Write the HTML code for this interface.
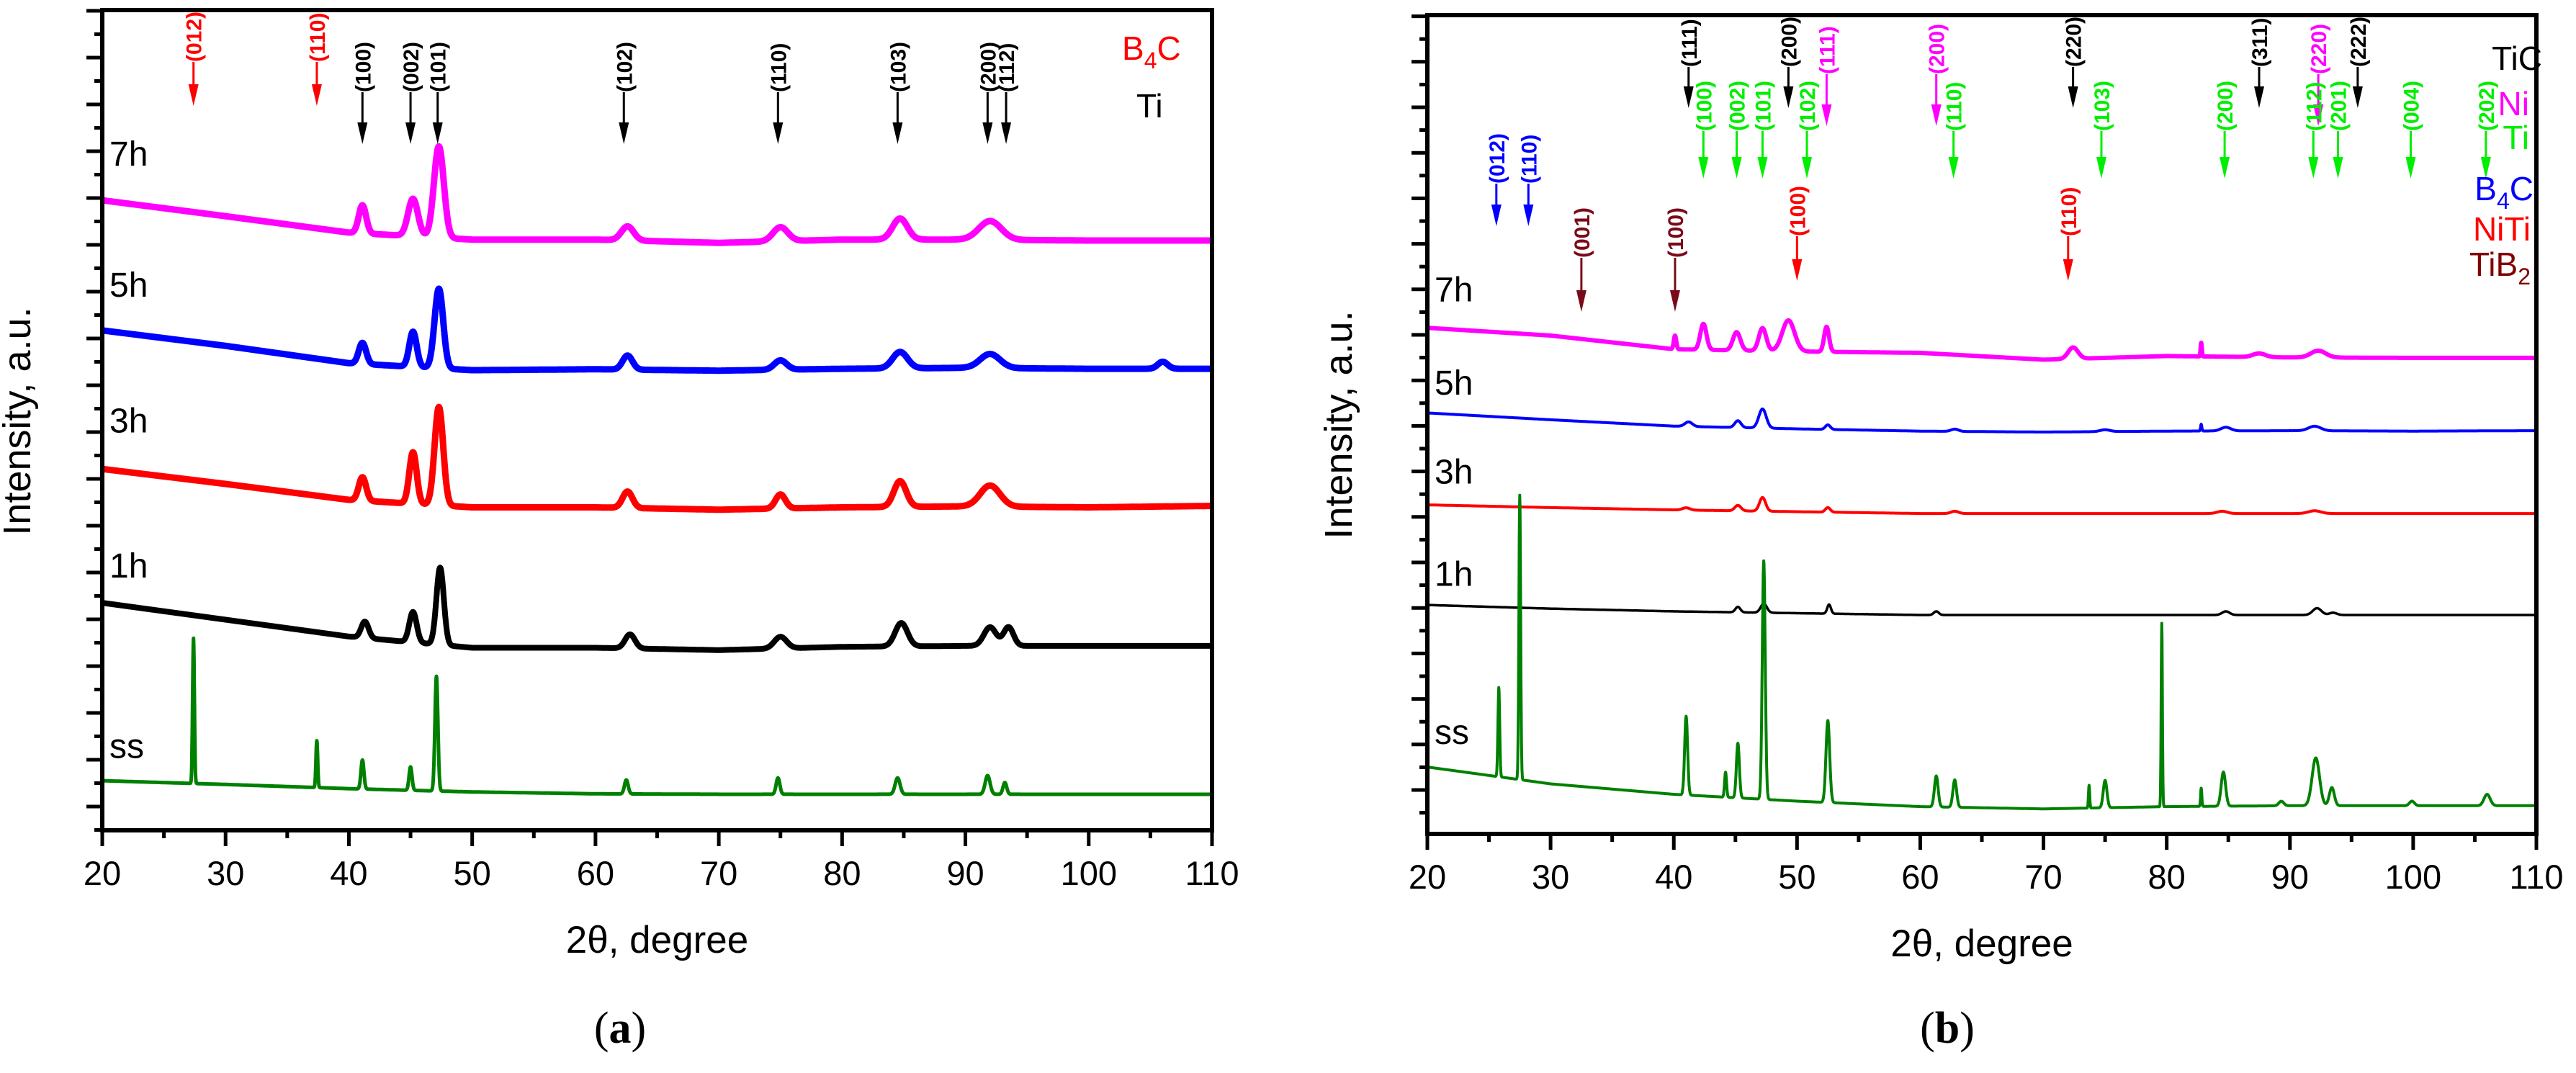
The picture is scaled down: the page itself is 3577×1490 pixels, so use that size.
<!DOCTYPE html>
<html><head><meta charset="utf-8"><style>
html,body{margin:0;padding:0;background:#fff;}
svg{display:block;font-family:"Liberation Sans",sans-serif;}
</style></head><body>
<svg id="fig" width="3577" height="1490" viewBox="0 0 3577 1490" xmlns="http://www.w3.org/2000/svg">
<g id="pa"></g>
<g id="pb"></g>
</svg>
<script>
// ---------- shared ----------
const baseX = [20,30,40,50,60,70,80,90,100,110];
const xTicks = [20,30,40,50,60,70,80,90,100,110];

// ---------- panel a data ----------
const a7hBase = [13.46,13.12,12.77,12.62,12.62,12.55,12.62,12.62,12.6,12.6];
const a7hPeaks = [[41.1,0.6,0.3],[45.2,0.8,0.4],[47.3,1.95,0.4],[62.6,0.3,0.5],[75,0.3,0.6],[84.7,0.45,0.6],[92,0.4,0.9]];
const a5hBase = [10.68,10.35,9.98,9.83,9.85,9.82,9.86,9.88,9.86,9.86];
const a5hPeaks = [[41.1,0.45,0.3],[45.2,0.75,0.3],[47.3,1.7,0.35],[62.6,0.3,0.4],[75,0.2,0.5],[84.7,0.35,0.6],[92,0.3,0.8],[106,0.15,0.4]];
const a3hBase = [7.72,7.4,7.06,6.9,6.9,6.85,6.9,6.92,6.9,6.93];
const a3hPeaks = [[41.1,0.5,0.3],[45.2,1.1,0.3],[47.3,2.1,0.35],[62.6,0.35,0.4],[75,0.3,0.4],[84.7,0.55,0.5],[92,0.45,0.8]];
const a1hBase = [4.86,4.5,4.14,3.9,3.9,3.85,3.92,3.94,3.94,3.94];
const a1hPeaks = [[41.3,0.35,0.3],[45.2,0.65,0.3],[47.4,1.65,0.3],[62.8,0.3,0.4],[75,0.25,0.5],[84.8,0.5,0.5],[92,0.4,0.5],[93.5,0.4,0.4]];
const assBase = [1.06,0.98,0.89,0.82,0.78,0.77,0.77,0.77,0.77,0.77];
const assPeaks = [[27.4,3.1,0.07],[37.4,1.0,0.07],[41.1,0.62,0.12],[45,0.5,0.12],[47.1,2.45,0.12],[62.5,0.3,0.15],[74.8,0.35,0.15],[84.5,0.35,0.2],[91.8,0.4,0.2],[93.2,0.25,0.15]];
const aLabels = ['7h','5h','3h','1h','ss'];
const aLabelV = [14.2,11.4,8.5,5.4,1.55];

const aAnnPos = [27.4,37.4,41.1,45.0,47.2,62.3,74.8,84.5,91.8,93.3];
const aAnnText = ['(012)','(110)','(100)','(002)','(101)','(102)','(110)','(103)','(200)','(112)'];
const aAnnPhase = ['B4C','B4C','Ti','Ti','Ti','Ti','Ti','Ti','Ti','Ti'];

// ---------- panel b data ----------
const b7hBase = [11.12,10.95,10.65,10.6,10.57,10.42,10.5,10.47,10.46,10.46];
const b7hPeaks = [[40.1,0.3,0.1],[42.4,0.57,0.25],[45.1,0.4,0.3],[47.2,0.5,0.3],[49.3,0.68,0.5],[52.4,0.55,0.2],[72.4,0.25,0.4],[82.8,0.3,0.05],[87.5,0.08,0.5],[92.3,0.15,0.6]];
const b5hBase = [9.25,9.1,8.96,8.9,8.85,8.83,8.85,8.86,8.85,8.86];
const b5hPeaks = [[41.2,0.1,0.3],[45.2,0.15,0.25],[47.2,0.42,0.3],[52.5,0.1,0.2],[62.8,0.05,0.3],[75,0.04,0.4],[82.8,0.15,0.05],[84.8,0.08,0.4],[92,0.1,0.5]];
const b3hBase = [7.23,7.17,7.12,7.08,7.04,7.04,7.04,7.04,7.04,7.04];
const b3hPeaks = [[41,0.05,0.3],[45.2,0.12,0.25],[47.2,0.3,0.25],[52.5,0.1,0.2],[62.8,0.05,0.3],[84.5,0.05,0.4],[92,0.06,0.5]];
const b1hBase = [5.03,4.95,4.89,4.85,4.81,4.81,4.81,4.81,4.81,4.81];
const b1hPeaks = [[45.2,0.12,0.2],[47.3,0.2,0.25],[52.6,0.2,0.15],[61.3,0.08,0.2],[84.8,0.08,0.3],[92.2,0.15,0.35],[93.5,0.05,0.3]];
const bssBase = [1.47,1.1,0.87,0.72,0.6,0.55,0.6,0.62,0.62,0.62];
const bssPeaks = [[25.8,1.96,0.07],[27.5,6.25,0.07],[41.0,1.73,0.12],[44.2,0.55,0.08],[45.2,1.2,0.12],[47.3,5.24,0.12],[52.5,1.8,0.15],[61.3,0.68,0.15],[62.8,0.6,0.15],[73.7,0.5,0.05],[75.0,0.6,0.15],[79.6,4.03,0.05],[82.8,0.4,0.05],[84.6,0.75,0.18],[89.3,0.1,0.2],[92.1,1.05,0.3],[93.4,0.4,0.2],[99.9,0.1,0.2],[106,0.25,0.25]];
const bLabels = ['7h','5h','3h','1h','ss'];
const bLabelV = [11.7,9.65,7.7,5.45,1.98];

const bAnnPos = [41.2,49.3,72.4,87.5,95.5, 52.4,61.3,92.3, 42.4,45.1,47.2,50.8,62.7,74.7,84.7,91.9,93.9,99.8,105.9, 25.6,28.2, 50.0,72.0, 32.5,40.1];
const bAnnText = ['(111)','(200)','(220)','(311)','(222)', '(111)','(200)','(220)', '(100)','(002)','(101)','(102)','(110)','(103)','(200)','(112)','(201)','(004)','(202)', '(012)','(110)', '(100)','(110)', '(001)','(100)'];
const bAnnPhase = ['TiC','TiC','TiC','TiC','TiC','Ni','Ni','Ni','Ti','Ti','Ti','Ti','Ti','Ti','Ti','Ti','Ti','Ti','Ti','B4C','B4C','NiTi','NiTi','TiB2','TiB2'];

// ---------- helpers ----------
const NS = 'http://www.w3.org/2000/svg';
function mk(tag, attrs, parent){ const e=document.createElementNS(NS,tag); for(const k in attrs) e.setAttribute(k,attrs[k]); parent.appendChild(e); return e; }
function interp(xs, ys, x){ for(let i=0;i<xs.length-1;i++){ if(x<=xs[i+1]){ const t=(x-xs[i])/(xs[i+1]-xs[i]); return ys[i]+t*(ys[i+1]-ys[i]); } } return ys[ys.length-1]; }
function curveVal(base, peaks, x){ let v=interp(baseX,base,x); for(const p of peaks){ const d=(x-p[0])/p[2]; v+=p[1]*Math.exp(-0.5*d*d);} return v; }

function buildPanel(g, cfg){
  const X = d => cfg.left + (d-20)/90*(cfg.right-cfg.left);
  const Y = v => cfg.bottom - v*cfg.unit;
  cfg.series.forEach(s=>{
    let d='';
    for(let x=20;x<=110.0001;x+=0.02){ d += (d?'L':'M') + X(x).toFixed(1)+','+Y(curveVal(s.base,s.peaks,x)).toFixed(1); }
    const p = mk('path',{d:d,fill:'none',stroke:s.color,'stroke-width':s.w,'stroke-linejoin':'round'},g);
    
    
  });
  cfg.labels.forEach((t,i)=>{
    const e = mk('text',{x:cfg.left+10,y:Y(cfg.labelV[i]),'font-size':48,fill:'#000'},g);
    e.textContent=t;
    
    
  });
  cfg.annPos.forEach((pos,i)=>{
    const st = cfg.styles[cfg.annPhase[i]];
    const ax = X(pos);
    const ag = mk('g',{},g);
    
    
    mk('line',{x1:ax,y1:st.tb,x2:ax,y2:st.tip-26,stroke:st.c,'stroke-width':3},ag);
    mk('polygon',{points:(ax-7)+','+(st.tip-30)+' '+(ax+7)+','+(st.tip-30)+' '+ax+','+st.tip,fill:st.c},ag);
    const t = mk('text',{x:0,y:0,'font-size':30,'font-weight':'bold',fill:st.c,transform:'translate('+(ax+11)+','+st.tb+') rotate(-90)'},ag);
    t.textContent = cfg.annText[i];
  });
  const fr = mk('rect',{x:cfg.left,y:cfg.top,width:cfg.right-cfg.left,height:cfg.bottom-cfg.top,fill:'none',stroke:'#000','stroke-width':6},g);
  
  
  for(let v=cfg.firstMajor; Y(v)>=cfg.top-1; v+=1){
    mk('line',{x1:cfg.left-22,y1:Y(v),x2:cfg.left,y2:Y(v),stroke:'#000','stroke-width':5},g);
    const vm=v-0.5; if(Y(vm)<=cfg.bottom && Y(vm)>=cfg.top) mk('line',{x1:cfg.left-11,y1:Y(vm),x2:cfg.left,y2:Y(vm),stroke:'#000','stroke-width':5},g);
  }
  const vt=cfg.firstMajor+Math.floor((cfg.bottom-cfg.top)/cfg.unit); if(Y(vt+0.5)>=cfg.top) mk('line',{x1:cfg.left-11,y1:Y(vt+0.5),x2:cfg.left,y2:Y(vt+0.5),stroke:'#000','stroke-width':5},g);
  xTicks.forEach(t=>{
    mk('line',{x1:X(t),y1:cfg.bottom,x2:X(t),y2:cfg.bottom+22,stroke:'#000','stroke-width':5},g);
    if(t<110) mk('line',{x1:X(t+5),y1:cfg.bottom,x2:X(t+5),y2:cfg.bottom+11,stroke:'#000','stroke-width':5},g);
    const e=mk('text',{x:X(t),y:cfg.bottom+76,'font-size':47,'text-anchor':'middle',fill:'#000'},g);
    e.textContent=t;
    
    
  });
  const xt=mk('text',{x:(cfg.left+cfg.right)/2,y:cfg.bottom+170,'font-size':53,'text-anchor':'middle',fill:'#000'},g);
  xt.textContent='2θ, degree';
  
  
  const yt=mk('text',{x:0,y:0,'font-size':54,'text-anchor':'middle',fill:'#000',transform:'translate('+(cfg.left-cfg.ytOff)+','+cfg.ymid+') rotate(-90)'},g);
  yt.textContent='Intensity, a.u.';
  
  
  const cap=mk('text',{x:cfg.capX,y:1448,'font-size':62,'text-anchor':'middle',fill:'#000','font-family':'Liberation Serif, serif'},g);
  cap.innerHTML='(<tspan font-weight="bold">'+cfg.cap+'</tspan>)';
  
  
  cfg.legend.forEach(L=>{
    const e=mk('text',{x:L.x,y:L.y,'font-size':46,'text-anchor':L.anchor,fill:L.c},g);
    e.innerHTML=L.t;
    
    
  });
}

buildPanel(document.getElementById('pa'),{
  left:142,right:1683,top:14,bottom:1153,unit:65,firstMajor:0.508,ymid:585,capX:861,cap:'a',ytOff:100,
  series:[{name:'7h',base:a7hBase,peaks:a7hPeaks,color:'#ff00ff',w:9},{name:'5h',base:a5hBase,peaks:a5hPeaks,color:'#0000ff',w:9},{name:'3h',base:a3hBase,peaks:a3hPeaks,color:'#ff0000',w:9},{name:'1h',base:a1hBase,peaks:a1hPeaks,color:'#000',w:8},{name:'ss',base:assBase,peaks:assPeaks,color:'#008000',w:5}],
  labels:aLabels,labelV:aLabelV,annPos:aAnnPos,annText:aAnnText,annPhase:aAnnPhase,
  styles:{B4C:{c:'#ff0000',tb:86,tip:147},Ti:{c:'#000',tb:128,tip:200}},
  legend:[{x:1558,y:83,t:'B<tspan font-size="32" dy="12">4</tspan><tspan dy="-12">C</tspan>',c:'#ff0000',anchor:'start'},{x:1578,y:163,t:'Ti',c:'#000',anchor:'start'}]
});
buildPanel(document.getElementById('pb'),{
  left:1982,right:3522,top:21,bottom:1158,unit:63.2,firstMajor:0.965,ymid:590,capX:2704,cap:'b',ytOff:105,
  series:[{name:'7h',base:b7hBase,peaks:b7hPeaks,color:'#ff00ff',w:6},{name:'5h',base:b5hBase,peaks:b5hPeaks,color:'#0000ff',w:4},{name:'3h',base:b3hBase,peaks:b3hPeaks,color:'#ff0000',w:4},{name:'1h',base:b1hBase,peaks:b1hPeaks,color:'#000',w:3.5},{name:'ss',base:bssBase,peaks:bssPeaks,color:'#008000',w:4}],
  labels:bLabels,labelV:bLabelV,annPos:bAnnPos,annText:bAnnText,annPhase:bAnnPhase,
  styles:{TiC:{c:'#000',tb:93,tip:150},Ni:{c:'#ff00ff',tb:103,tip:175},Ti:{c:'#00ee00',tb:182,tip:248},B4C:{c:'#0000ff',tb:255,tip:314},NiTi:{c:'#ff0000',tb:328,tip:390},TiB2:{c:'#7a0a1a',tb:358,tip:433}},
  legend:[{x:3530,y:97,t:'TiC',c:'#000',anchor:'end'},{x:3512,y:160,t:'Ni',c:'#ff00ff',anchor:'end'},{x:3512,y:207,t:'Ti',c:'#00ee00',anchor:'end'},{x:3518,y:278,t:'B<tspan font-size="32" dy="12">4</tspan><tspan dy="-12">C</tspan>',c:'#0000ff',anchor:'end'},{x:3514,y:334,t:'NiTi',c:'#ff0000',anchor:'end'},{x:3514,y:383,t:'TiB<tspan font-size="32" dy="12">2</tspan>',c:'#800000',anchor:'end'}]
});
</script>
</body></html>
